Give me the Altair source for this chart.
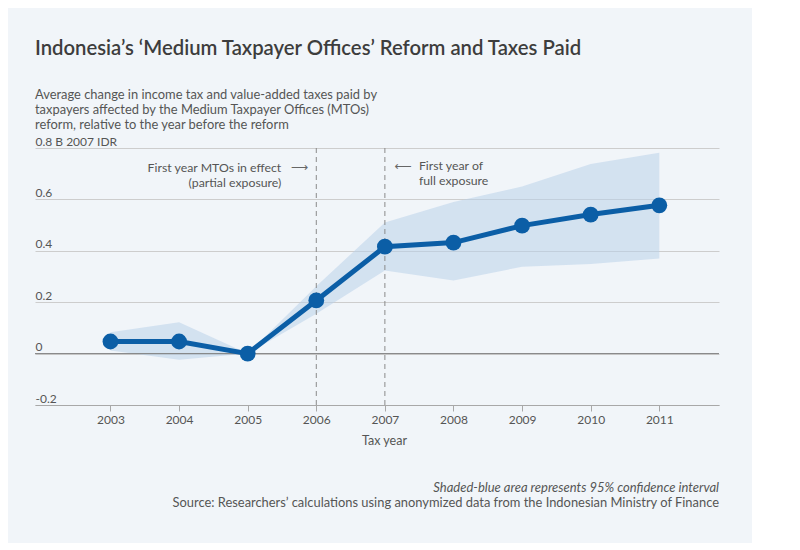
import altair as alt
import pandas as pd

# ---- data ----
years = [2003, 2004, 2005, 2006, 2007, 2008, 2009, 2010, 2011]
estimate = [0.047, 0.047, 0.0, 0.207, 0.416, 0.432, 0.498, 0.541, 0.577]
ci_lower = [0.012, -0.024, 0.0, 0.155, 0.323, 0.284, 0.338, 0.349, 0.370]
ci_upper = [0.083, 0.122, 0.0, 0.262, 0.510, 0.590, 0.650, 0.738, 0.782]

event_years = [2006, 2007]
y_ticks = [-0.2, 0, 0.2, 0.4, 0.6, 0.8]
y_tick_labels = ["-0.2", "0", "0.2", "0.4", "0.6", "0.8 B 2007 IDR"]

title_text = "Indonesia\u2019s \u2018Medium Taxpayer Offices\u2019 Reform and Taxes Paid"
subtitle_lines = [
    "Average change in income tax and value-added taxes paid by",
    "taxpayers affected by the Medium Taxpayer Offices (MTOs)",
    "reform, relative to the year before the reform",
]
note_text = "Shaded-blue area represents 95% confidence interval"
source_text = "Source: Researchers\u2019 calculations using anonymized data from the Indonesian Ministry of Finance"
left_note = ["First year MTOs in effect", "(partial exposure)"]
right_note = ["First year of", "full exposure"]

FONT = "Lato"
BG = "#f1f5f9"
BLUE = "#0b5ea6"
TXT = "#555555"

df = pd.DataFrame({"year": years, "est": estimate, "lo": ci_lower, "hi": ci_upper})
ev = pd.DataFrame({"year": event_years})

label_expr = " : ".join(
    f"abs(datum.value - ({v})) < 1e-6 ? '{l}'" for v, l in zip(y_ticks, y_tick_labels)
) + " : ''"

xscale = alt.Scale(domain=[2001.9, 2011.87], nice=False, zero=False)
yscale = alt.Scale(domain=[-0.2, 0.8], nice=False, zero=False)

xaxis = alt.Axis(
    values=years, format="d", grid=False, domain=True, domainColor="#a8a8a8",
    ticks=True, tickColor="#a8a8a8", tickSize=6, labelPadding=3,
    labelFont=FONT, labelFontSize=12, labelColor=TXT,
    title="Tax year", titleFont=FONT, titleFontSize=12.5, titleFontWeight="normal",
    titleColor=TXT, titlePadding=9, titleX=349, titleAlign="center",
)
yaxis = alt.Axis(
    values=y_ticks, labelExpr=label_expr, grid=True, gridColor="#cdcdcd",
    domain=False, ticks=False, tickSize=0, labelPadding=0, labelAlign="left",
    labelBaseline="alphabetic", labelOffset=-3, labelFont=FONT, labelFontSize=12,
    labelColor=TXT, title=None,
)

base = alt.Chart(df)

band = base.mark_area(color="#b9d2ea", opacity=0.55).encode(
    x=alt.X("year:Q", scale=xscale, axis=xaxis),
    y=alt.Y("lo:Q", scale=yscale, axis=yaxis),
    y2="hi:Q",
)

zero_rule = alt.Chart(pd.DataFrame({"v": [0]})).mark_rule(color="#7f7f7f", strokeWidth=1).encode(
    y=alt.Y("v:Q", scale=yscale)
)

event_rules = alt.Chart(ev).mark_rule(color="#8a8a8a", strokeWidth=1, strokeDash=[5, 4]).encode(
    x=alt.X("year:Q", scale=xscale)
)

line = base.mark_line(color=BLUE, strokeWidth=5).encode(
    x=alt.X("year:Q", scale=xscale), y=alt.Y("est:Q", scale=yscale)
)
points = base.mark_circle(color=BLUE, size=250, opacity=1).encode(
    x=alt.X("year:Q", scale=xscale), y=alt.Y("est:Q", scale=yscale)
)

ann_left = alt.Chart().mark_text(
    align="right", baseline="alphabetic", dx=-35, lineHeight=15,
    font=FONT, fontSize=12.3, color=TXT,
).encode(x=alt.datum(event_years[0]), y=alt.datum(0.708), text=alt.value(left_note))

ann_right = alt.Chart().mark_text(
    align="left", baseline="alphabetic", dx=34, lineHeight=15,
    font=FONT, fontSize=12.3, color=TXT,
).encode(x=alt.datum(event_years[1]), y=alt.datum(0.715), text=alt.value(right_note))

arrow_left = alt.Chart().mark_text(
    align="center", baseline="middle", dx=-17, font="DejaVu Sans", fontSize=12, color="#666666",
).encode(x=alt.datum(event_years[0]), y=alt.datum(0.725), text=alt.value("\u27f6"))

arrow_right = alt.Chart().mark_text(
    align="center", baseline="middle", dx=18, font="DejaVu Sans", fontSize=12, color="#666666",
).encode(x=alt.datum(event_years[1]), y=alt.datum(0.731), text=alt.value("\u27f5"))

note = alt.Chart().mark_text(
    align="right", baseline="middle", font=FONT, fontSize=13, fontStyle="italic", color=TXT,
).encode(x=alt.value(684), y=alt.value(340), text=alt.value(note_text))

source = alt.Chart().mark_text(
    align="right", baseline="middle", font=FONT, fontSize=12.9, color=TXT,
).encode(x=alt.value(684), y=alt.value(355), text=alt.value(source_text))

chart = alt.layer(
    band, zero_rule, event_rules, line, points,
    ann_left, ann_right, arrow_left, arrow_right, note, source,
).properties(
    width=684, height=257,
    autosize=alt.AutoSizeParams(type="none"),
    padding={"left": 27, "top": 140, "right": 33, "bottom": 138},
    background=BG,
    title=alt.TitleParams(
        text=title_text, subtitle=subtitle_lines, anchor="start", frame="group",
        font=FONT, fontSize=20.3, fontWeight=600, color="#3d3d3d",
        subtitleFont=FONT, subtitleFontSize=12.9, subtitleColor=TXT,
        subtitleLineHeight=15, subtitlePadding=30, offset=3,
    ),
).configure_view(stroke=None)

chart.save("out.html", embed_options={"renderer": "svg", "actions": False})
